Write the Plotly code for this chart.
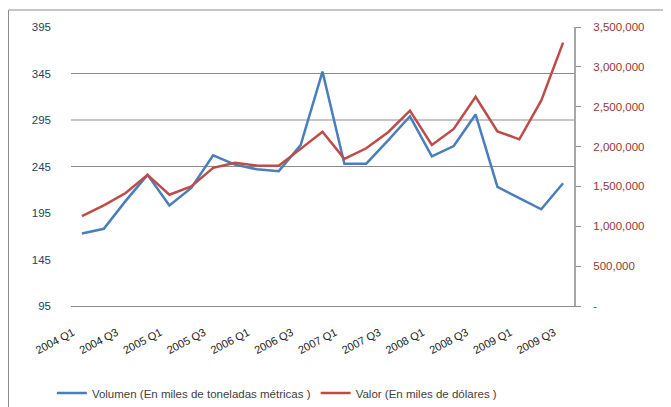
import plotly.graph_objects as go

categories = ["2004 Q1", "2004 Q2", "2004 Q3", "2004 Q4",
              "2005 Q1", "2005 Q2", "2005 Q3", "2005 Q4",
              "2006 Q1", "2006 Q2", "2006 Q3", "2006 Q4",
              "2007 Q1", "2007 Q2", "2007 Q3", "2007 Q4",
              "2008 Q1", "2008 Q2", "2008 Q3", "2008 Q4",
              "2009 Q1", "2009 Q2", "2009 Q3"]
volumen = [173, 178, 208, 236, 203, 222, 257, 247, 242, 240, 268, 347,
           248, 248, 273, 299, 256, 267, 301, 223, 211, 199, 227]
valor = [1128000, 1262000, 1417000, 1646000, 1396000, 1500000, 1733000, 1796000,
         1762000, 1758000, 1971000, 2187000, 1846000, 1979000, 2180000, 2450000,
         2021000, 2221000, 2625000, 2191000, 2091000, 2575000, 3304000]
x_ticks = categories[::2]
left_ticks = [95, 145, 195, 245, 295, 345, 395]
grid_vals = [245, 295, 345]
right_ticks = [0, 500000, 1000000, 1500000, 2000000, 2500000, 3000000, 3500000]
right_text = ["-", "500,000", "1,000,000", "1,500,000", "2,000,000",
              "2,500,000", "3,000,000", "3,500,000"]
name_vol = "Volumen (En miles de toneladas métricas )"
name_val = "Valor (En miles de dólares )"

FONT = "Liberation Sans"

fig = go.Figure()
fig.add_trace(go.Scatter(x=categories, y=volumen, name=name_vol, mode="lines",
                         line=dict(color="#4A7EBB", width=2.5), yaxis="y"))
fig.add_trace(go.Scatter(x=categories, y=valor, name=name_val, mode="lines",
                         line=dict(color="#BE4B48", width=2.5), yaxis="y2"))

for g in grid_vals:
    fig.add_shape(type="line", xref="paper", yref="y", x0=0, x1=1, y0=g, y1=g,
                  line=dict(color="#8C8C8C", width=1), layer="below")

# figure is placed at (8, 8) by the page's body margin
L, R, T, B = 63, 97, 19, 101
W, H = 663, 399
pw, ph = W - L - R, H - T - B
# outer chart border (left and top edges visible)
fig.add_shape(type="rect", xref="paper", yref="paper",
              x0=(0.5 - L) / pw, x1=(W + 5 - L) / pw,
              y0=(H - B - (H + 5)) / ph, y1=(H - B - 2) / ph,
              line=dict(color="#8C8C8C", width=1), fillcolor="rgba(0,0,0,0)")

fig.update_layout(
    width=W, height=H,
    margin=dict(l=L, r=R, t=T, b=B, autoexpand=False),
    paper_bgcolor="white", plot_bgcolor="white",
    font=dict(family=FONT, size=11, color="#404040"),
    showlegend=True,
    legend=dict(orientation="h", x=-0.038, y=-0.312, xanchor="left", yanchor="middle",
                font=dict(size=11.5, color="#404040"), itemwidth=30,
                tracegroupgap=0),
    xaxis=dict(type="category", tickmode="array", tickvals=x_ticks, ticktext=x_ticks,
               tickangle=-28, showgrid=False, showline=True, linecolor="#8C8C8C",
               linewidth=1, ticks="", tickfont=dict(size=11, color="#202020"),
               ticklabelstandoff=15, ticklabelshift=-9,
               range=[-0.5, len(categories) - 0.5]),
    yaxis=dict(range=[95, 395], tickmode="array", tickvals=left_ticks,
               showgrid=False, zeroline=False, showline=False, ticks="",
               ticklabelstandoff=19, tickfont=dict(size=11.5, color="#243F60")),
    yaxis2=dict(range=[0, 3500000], overlaying="y", side="right", tickmode="array",
                tickvals=right_ticks, ticktext=right_text, showgrid=False,
                zeroline=False, showline=True, linecolor="#A6A6A6", linewidth=2,
                ticks="outside", ticklen=5, tickcolor="#8C8C8C",
                ticklabelstandoff=10, tickfont=dict(size=11.5, color="#953735")),
)

fig.write_html("out.html")
